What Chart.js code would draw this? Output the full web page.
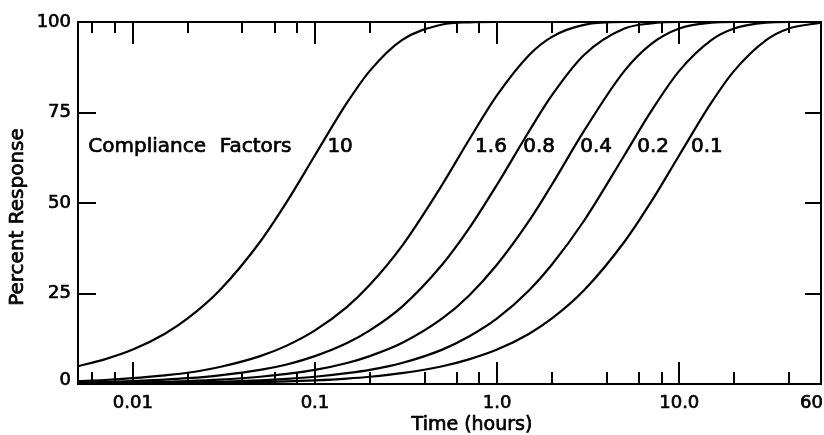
<!DOCTYPE html>
<html><head><meta charset="utf-8">
<script src="https://cdn.jsdelivr.net/npm/chart.js@4"></script>
<style>html,body{margin:0;padding:0;background:#fff}canvas{display:block}</style>
</head><body>
<canvas id="c" width="824" height="435"></canvas>
<script>
// Time grid (hours) and percent response for each compliance factor
const times = [0.005, 0.007, 0.01, 0.015, 0.02, 0.03, 0.05, 0.07, 0.1, 0.15, 0.2, 0.3, 0.5, 0.7, 1, 1.5, 2, 3, 5, 7, 10, 15, 20, 30, 40, 60];
const cf10 = [4.9, 6.8, 9.5, 13.9, 18.1, 25.9, 39.3, 50.3, 63.2, 77.7, 86.5, 95.0, 99.3, 99.9, 100, 100, 100, 100, 100, 100, 100, 100, 100, 100, 100, 100];
const cf16 = [0.8, 1.1, 1.6, 2.4, 3.1, 4.7, 7.7, 10.6, 14.8, 21.3, 27.4, 38.1, 55.1, 67.4, 79.8, 90.9, 95.9, 99.2, 100, 100, 100, 100, 100, 100, 100, 100];
const cf08 = [0.4, 0.6, 0.8, 1.2, 1.6, 2.4, 3.9, 5.4, 7.7, 11.3, 14.8, 21.3, 33.0, 42.9, 55.1, 69.9, 79.8, 90.9, 98.2, 99.6, 100, 100, 100, 100, 100, 100];
const cf04 = [0.2, 0.3, 0.4, 0.6, 0.8, 1.2, 2.0, 2.8, 3.9, 5.8, 7.7, 11.3, 18.1, 24.4, 33.0, 45.1, 55.1, 69.9, 86.5, 93.9, 98.2, 99.8, 100, 100, 100, 100];
const cf02 = [0.1, 0.1, 0.2, 0.3, 0.4, 0.6, 1.0, 1.4, 2.0, 3.0, 3.9, 5.8, 9.5, 13.1, 18.1, 25.9, 33.0, 45.1, 63.2, 75.3, 86.5, 95.0, 98.2, 99.8, 100, 100];
const cf01 = [0.05, 0.07, 0.1, 0.15, 0.2, 0.3, 0.5, 0.7, 1.0, 1.5, 2.0, 3.0, 4.9, 6.8, 9.5, 13.9, 18.1, 25.9, 39.3, 50.3, 63.2, 77.7, 86.5, 95.0, 98.2, 99.8];

const seriesNames = ['10', '1.6', '0.8', '0.4', '0.2', '0.1'];
const seriesValues = [cf10, cf16, cf08, cf04, cf02, cf01];
// curve label anchors (time, percent)
const labelTimes = [0.117, 0.757, 1.39, 2.86, 5.88, 11.6];
const labelPercent = 65.5;
const annotationText = ['Compliance', 'Factors'];
const annotationTimes = [0.0057, 0.030];

const xTickValues = [0.01, 0.1, 1, 10, 60];
const xTickLabels = ['0.01', '0.1', '1.0', '10.0', '60'];
const xMajorMarks = [0.01, 0.1, 1, 10];
const xMinorMarks = [0.006, 0.008, 0.02, 0.04, 0.06, 0.08, 0.2, 0.4, 0.6, 0.8, 2, 4, 6, 8, 20, 40];
const yTickValues = [0, 25, 50, 75, 100];
const yTickLabels = ['0', '25', '50', '75', '100'];
const yMarks = [25, 50, 75];
const xTitle = 'Time (hours)';
const yTitle = 'Percent Response';

const FONT = '"DejaVu Sans", sans-serif';

function heavyText(ctx, s, x, y) {
  ctx.fillText(s, x, y);
  ctx.strokeText(s, x, y);
}

const framePlugin = {
  id: 'frame',
  afterDatasetsDraw(chart) {
    const {ctx, chartArea: a, scales: {x, y}} = chart;
    ctx.save();
    ctx.strokeStyle = '#000';
    ctx.lineWidth = 2;
    ctx.strokeRect(a.left, a.top, a.right - a.left, a.bottom - a.top);
    ctx.beginPath();
    for (const v of xMajorMarks) {
      const px = Math.round(x.getPixelForValue(v));
      ctx.moveTo(px, a.bottom); ctx.lineTo(px, a.bottom - 22);
      ctx.moveTo(px, a.top); ctx.lineTo(px, a.top + 22);
    }
    for (const v of xMinorMarks) {
      const px = Math.round(x.getPixelForValue(v));
      ctx.moveTo(px, a.bottom); ctx.lineTo(px, a.bottom - 12);
      ctx.moveTo(px, a.top); ctx.lineTo(px, a.top + 11);
    }
    for (const v of yMarks) {
      const py = Math.round(y.getPixelForValue(v));
      ctx.moveTo(a.left, py); ctx.lineTo(a.left + 18, py);
      ctx.moveTo(a.right, py); ctx.lineTo(a.right - 16, py);
    }
    ctx.stroke();

    ctx.fillStyle = '#000';
    ctx.lineWidth = 0.7;
    ctx.lineJoin = 'round';
    ctx.textBaseline = 'middle';
    // y tick labels
    ctx.font = '18px ' + FONT;
    ctx.textAlign = 'right';
    yTickValues.forEach((v, i) => {
      const py = Math.min(y.getPixelForValue(v), a.bottom - 4);
      heavyText(ctx, yTickLabels[i], a.left - 7, py);
    });
    // x tick labels
    ctx.textAlign = 'center';
    xTickValues.forEach((v, i) => {
      const px = x.getPixelForValue(v);
      const w = ctx.measureText(xTickLabels[i]).width;
      const cx = Math.min(px, chart.width - 1 - w / 2);
      heavyText(ctx, xTickLabels[i], cx, a.bottom + 19);
    });
    // x title
    ctx.font = '19px ' + FONT;
    heavyText(ctx, xTitle, 472, a.bottom + 41);
    // y title
    ctx.save();
    ctx.translate(18, 217);
    ctx.rotate(-Math.PI / 2);
    ctx.font = '20px ' + FONT;
    heavyText(ctx, yTitle, 0, 0);
    ctx.restore();
    // curve labels
    ctx.font = '20px ' + FONT;
    ctx.textAlign = 'left';
    const ly = y.getPixelForValue(labelPercent);
    seriesNames.forEach((n, i) => {
      heavyText(ctx, n, x.getPixelForValue(labelTimes[i]), ly);
    });
    annotationText.forEach((t, i) => {
      heavyText(ctx, t, x.getPixelForValue(annotationTimes[i]), ly);
    });
    ctx.restore();
  }
};

new Chart(document.getElementById('c'), {
  type: 'line',
  data: {
    datasets: seriesValues.map((vals, i) => ({
      label: seriesNames[i],
      data: times.map((t, j) => ({x: t, y: vals[j]})),
      borderColor: '#000',
      borderWidth: 2.2,
      pointRadius: 0,
      cubicInterpolationMode: 'monotone',
      fill: false
    }))
  },
  options: {
    responsive: false,
    animation: false,
    devicePixelRatio: 1,
    layout: {padding: {top: 22, right: 3, left: 0, bottom: 0}},
    plugins: {legend: {display: false}, tooltip: {enabled: false}},
    scales: {
      x: {
        type: 'logarithmic', min: 0.005, max: 60,
        grid: {display: false, drawTicks: false},
        border: {display: false},
        ticks: {display: false},
        afterFit(s) { s.height = 51; }
      },
      y: {
        type: 'linear', min: 0, max: 100,
        afterBuildTicks(s) { s.ticks = yTickValues.map(v => ({value: v})); },
        ticks: {display: false},
        grid: {display: false, drawTicks: false},
        border: {display: false},
        afterFit(s) { s.width = 78; }
      }
    }
  },
  plugins: [framePlugin]
});
</script>
</body></html>
